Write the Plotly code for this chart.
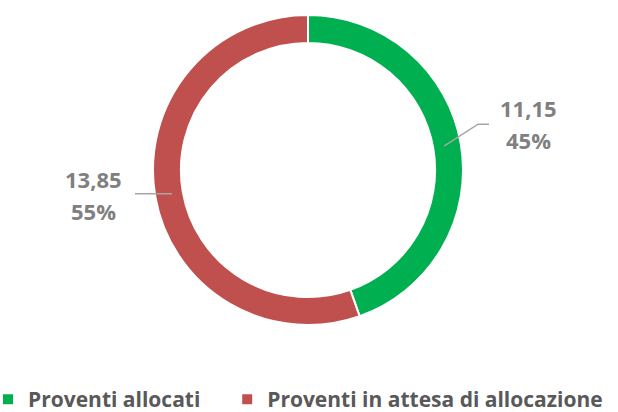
import math
import plotly.graph_objects as go

labels = ["Proventi allocati", "Proventi in attesa di allocazione"]
values = [11.15, 13.85]
colors = ["#00B050", "#C0504D"]

W, H = 618, 412
cx, cy, R = 308, 170, 155
hole = 0.82
FONT = "Open Sans"

# legend entry padding (non-breaking spaces) to widen the gap between entries
legend_names = [labels[0] + "\u00a0" * 4, labels[1]]

fig = go.Figure(go.Pie(
    labels=legend_names, values=values, sort=False, direction="clockwise", rotation=0,
    hole=hole, marker=dict(colors=colors, line=dict(color="white", width=2)),
    textinfo="none", hoverinfo="label+value+percent",
    domain=dict(x=[(cx - R) / W, (cx + R) / W], y=[1 - (cy + R) / H, 1 - (cy - R) / H]),
))

def px(x, y):
    return x / W, 1 - y / H

total = sum(values)
cum = 0
rmid = R * (1 + hole) / 2
shapes, annots = [], []
for i, v in enumerate(values):
    frac = v / total
    mid = (cum + frac / 2) * 2 * math.pi
    cum += frac
    sx = cx + rmid * math.sin(mid)
    sy = cy - rmid * math.cos(mid)
    lines = [f"{v:.2f}".replace(".", ","), f"{round(frac * 100)}%"]
    if math.sin(mid) > 0:
        sx -= 3
        ex, ey = sx + 34, sy - 22
        hx = ex + 11
        tx, ty = hx + 39, ey
    else:
        sx += 3
        ex, ey = sx - 37, sy
        hx = ex
        tx, ty = hx - 41, ey + 1
    pts = [(sx, sy), (ex, ey), (hx, ey)]
    path = "M " + " L ".join(f"{px(a, b)[0]},{px(a, b)[1]}" for a, b in pts)
    shapes.append(dict(type="path", path=path, xref="paper", yref="paper",
                       line=dict(color="#A6A6A6", width=1.5)))
    for k, t in enumerate(lines):
        ax, ay = px(tx, ty + (k - 0.5) * 32)
        annots.append(dict(x=ax, y=ay, xref="paper", yref="paper", text=t, showarrow=False,
                           xanchor="center", yanchor="middle",
                           font=dict(family=FONT, size=22, color="#808080", weight="bold")))

fig.update_layout(
    width=W, height=H, margin=dict(l=0, r=0, t=0, b=0, autoexpand=False),
    paper_bgcolor="white", plot_bgcolor="white",
    shapes=shapes, annotations=annots,
    legend=dict(orientation="h", x=-12 / W, xanchor="left", y=-8 / H, yanchor="bottom",
                font=dict(family=FONT, size=21, color="#595959", weight="bold"),
                itemwidth=30, tracegroupgap=0),
    showlegend=True,
)
fig.write_html("out.html")
